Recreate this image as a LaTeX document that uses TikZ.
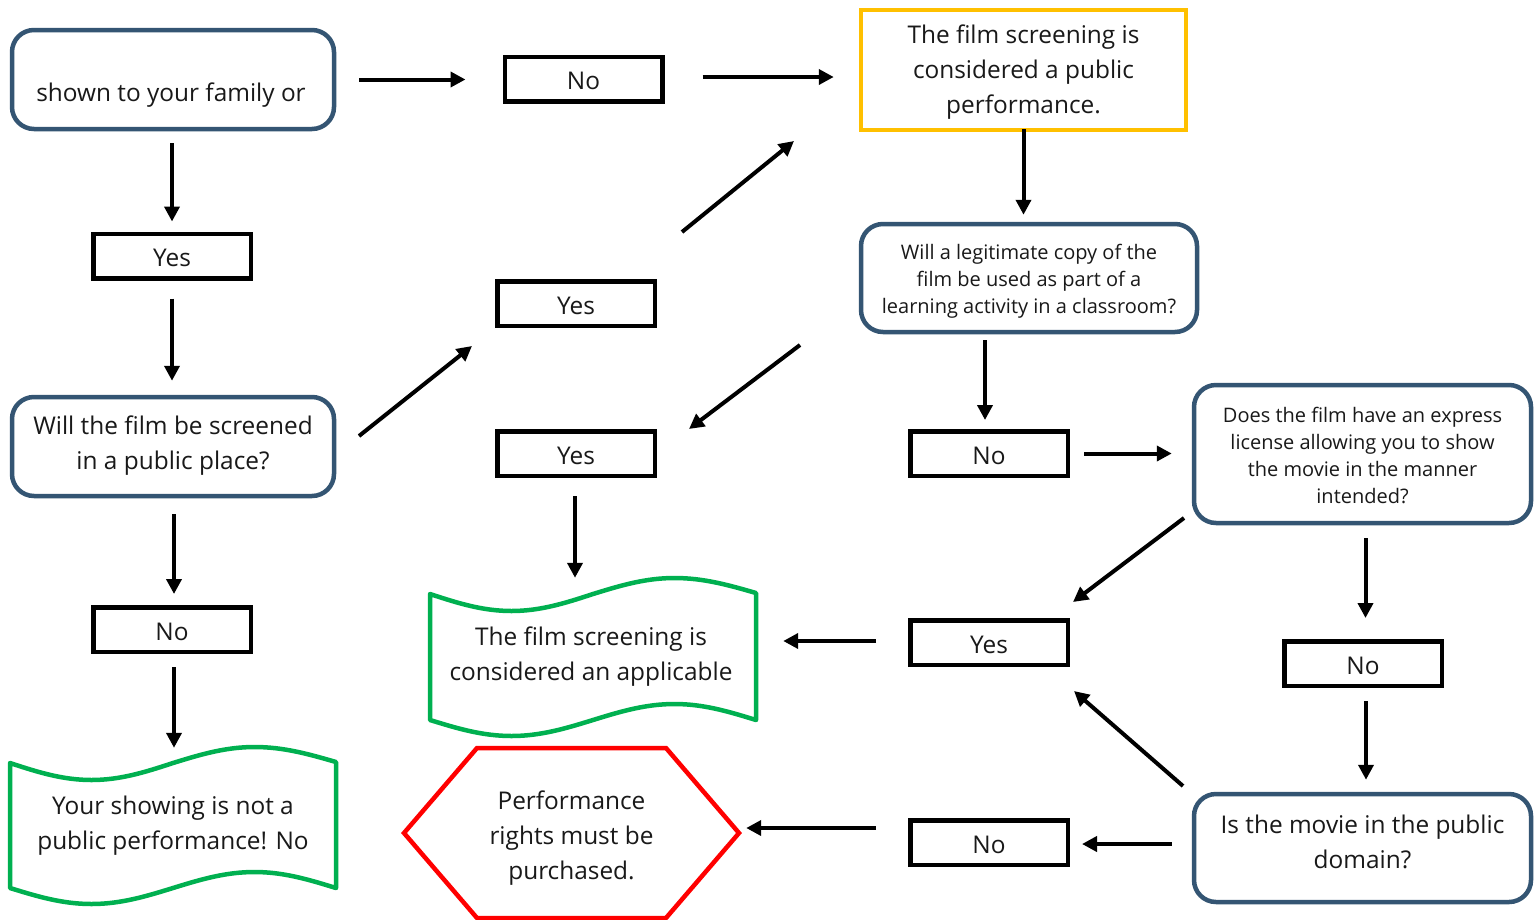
\documentclass[tikz,border=0pt]{standalone}
\usepackage{fontspec}
\setmainfont{Open Sans}
\usetikzlibrary{arrows.meta}
\definecolor{qblue}{RGB}{52,85,115}
\definecolor{qgreen}{RGB}{0,176,80}
\definecolor{qyellow}{RGB}{255,192,0}
\definecolor{qred}{RGB}{255,0,0}
\definecolor{qtext}{RGB}{25,25,25}
\begin{document}
\begin{tikzpicture}[x=1pt,y=-1pt,
  qbox/.style={draw=qblue, line width=4.5pt, rounded corners=22pt, inner sep=0pt, align=center, text=qtext},
  lbox/.style={draw=black, line width=4.5pt, minimum width=157.5pt, minimum height=44.5pt, inner sep=0pt, text=qtext, font=\fontsize{24.4}{29}\selectfont, text height=21pt, text depth=0pt},
  bigtxt/.style={font=\fontsize{24.4}{35}\selectfont, align=center, text=qtext, inner sep=0pt},
  smalltxt/.style={font=\fontsize{20}{27}\selectfont, align=center, text=qtext, inner sep=0pt},
  arr/.style={line width=4pt, -{Triangle[length=15pt,width=15pt]}},
  tape/.style={draw=qgreen, line width=4.5pt, line join=round},
  ]
\useasboundingbox (0,0) rectangle (1539,919);
\fill[white] (0,0) rectangle (1539,919);

% question boxes
\node[qbox, minimum width=322pt, minimum height=99pt] (b1) at (173,79.5) {};
\node[bigtxt] (b1t) at (171,95) {shown to your family or};
\node[qbox, minimum width=322pt, minimum height=99pt] (b2) at (173,446.5) {};
\node[bigtxt] (b2t) at (173,445.5) {Will the film be screened\\in a public place?};
\node[qbox, minimum width=336pt, minimum height=108pt] (leg) at (1029,278) {};
\node[smalltxt] (legt) at (1029,281) {Will a legitimate copy of the\\film be used as part of a\\learning activity in a classroom?};
\node[qbox, minimum width=337pt, minimum height=138pt] (does) at (1362.5,454) {};
\node[smalltxt] (doest) at (1362.5,455) {Does the film have an express\\license allowing you to show\\the movie in the manner\\intended?};
\node[qbox, minimum width=337pt, minimum height=108pt] (isdom) at (1362.5,848) {};
\node[bigtxt] (isdomt) at (1362.5,841.5) {Is the movie in the public\\domain?};

% yellow box
\node[draw=qyellow, line width=4.5pt, minimum width=325pt, minimum height=120pt, inner sep=0pt] (yel) at (1023.5,70) {};
\node[bigtxt] (yelt) at (1023.5,72) {The film screening is\\considered a public\\performance.};

% label boxes
\node[lbox] (no1) at (583.5,79) {No};
\node[lbox] (yes1) at (172,256) {Yes};
\node[lbox] (yesa) at (576,303.5) {Yes};
\node[lbox] (yesb) at (576,453.5) {Yes};
\node[lbox] (no2) at (989,453.5) {No};
\node[lbox] (no3) at (1363,663.5) {No};
\node[lbox] (yes3) at (989,642.5) {Yes};
\node[lbox] (no4) at (989,842.5) {No};
\node[lbox] (no5) at (172,629.5) {No};

% green tapes
\draw[tape] (10,763) sin (91.5,780) cos (173,763) sin (254.5,747) cos (336,762) -- (336,888) sin (254.5,872) cos (173,888) sin (91.5,904) cos (10,888) -- cycle;
\node[bigtxt, minimum width=326pt, minimum height=152pt] (w1) at (173,825) {};
\node[bigtxt] (w1t) at (173,826) {Your showing is not a\\public performance! No};
\draw[tape] (430,594) sin (511.5,611) cos (593,594) sin (674.5,578) cos (756,593) -- (756,720) sin (674.5,704) cos (593,720) sin (511.5,736) cos (430,720) -- cycle;
\node[bigtxt, minimum width=326pt, minimum height=152pt] (w2) at (593,655) {};
\node[bigtxt] (w2t) at (591,657) {The film screening is\\considered an applicable};

% red hexagon
\draw[qred, line width=4.5pt, line join=miter] (477,748) -- (666,748) -- (739,833) -- (666,918) -- (477,918) -- (404,833) -- cycle;
\node[minimum width=335pt, minimum height=170pt, inner sep=0pt] (hex) at (571.5,833) {};
\node[bigtxt] (hext) at (571.5,838.5) {Performance\\rights must be\\purchased.};

% straight arrows
\draw[arr, shorten <=23pt, shorten >=37pt] (b1.east) -- (b1.east -| no1.west);
\draw[arr, shorten <=38pt, shorten >=25pt] ([yshift=2pt]no1.east) -- ([yshift=2pt]no1.east -| yel.west);
\draw[arr, shorten <=-3pt, shorten >=7pt] (yel.south) -- (yel.south |- leg.north);
\draw[arr, shorten <=6pt, shorten >=9pt] ([xshift=-4pt]no2.north |- leg.south) -- ([xshift=-4pt]no2.north);
\draw[arr, shorten <=14pt, shorten >=20pt] (no2.east) -- (no2.east -| does.west);
\draw[arr, shorten <=13pt, shorten >=21pt] ([xshift=3pt]does.south) -- ([xshift=3pt]does.south |- no3.north);
\draw[arr, shorten <=13pt, shorten >=12pt] ([xshift=3pt]no3.south) -- ([xshift=3pt]no3.south |- isdom.north);
\draw[arr, shorten <=20pt, shorten >=12pt] ([yshift=-1.5pt]isdom.west |- no4.east) -- ([yshift=-1.5pt]no4.east);
\draw[arr, shorten <=32pt, shorten >=7pt] ([yshift=14.5pt]no4.west) -- ([yshift=14.5pt]no4.west -| hex.east);
\draw[arr, shorten <=32pt, shorten >=27pt] ([yshift=1.5pt]yes3.west) -- ([yshift=1.5pt]yes3.west -| w2.east);
\draw[arr, shorten <=18pt, shorten >=1pt] ([xshift=-1pt]yesb.south) -- ([xshift=-1pt]yesb.south |- w2.north);
\draw[arr, shorten <=12pt, shorten >=10pt] (yes1.north |- b1.south) -- (yes1.north);
\draw[arr, shorten <=18pt, shorten >=14pt] (yes1.south) -- (yes1.south |- b2.north);
\draw[arr, shorten <=16pt, shorten >=11pt] ([xshift=2pt]no5.north |- b2.south) -- ([xshift=2pt]no5.north);
\draw[arr, shorten <=13pt, shorten >=1pt] ([xshift=2pt]no5.south) -- ([xshift=2pt]no5.south |- w1.north);

% diagonal arrows
\coordinate (d1s) at (359,436); \coordinate (d1e) at (472,346);
\coordinate (d2s) at (682,232); \coordinate (d2e) at (794,141);
\coordinate (d3s) at (800,345); \coordinate (d3e) at (689,429);
\coordinate (d4s) at (1184,518); \coordinate (d4e) at (1073,602);
\coordinate (d5s) at (1183,786); \coordinate (d5e) at (1074,691);
\draw[arr] (d1s) -- (d1e);
\draw[arr] (d2s) -- (d2e);
\draw[arr] (d3s) -- (d3e);
\draw[arr] (d4s) -- (d4e);
\draw[arr] (d5s) -- (d5e);
\end{tikzpicture}
\end{document}
